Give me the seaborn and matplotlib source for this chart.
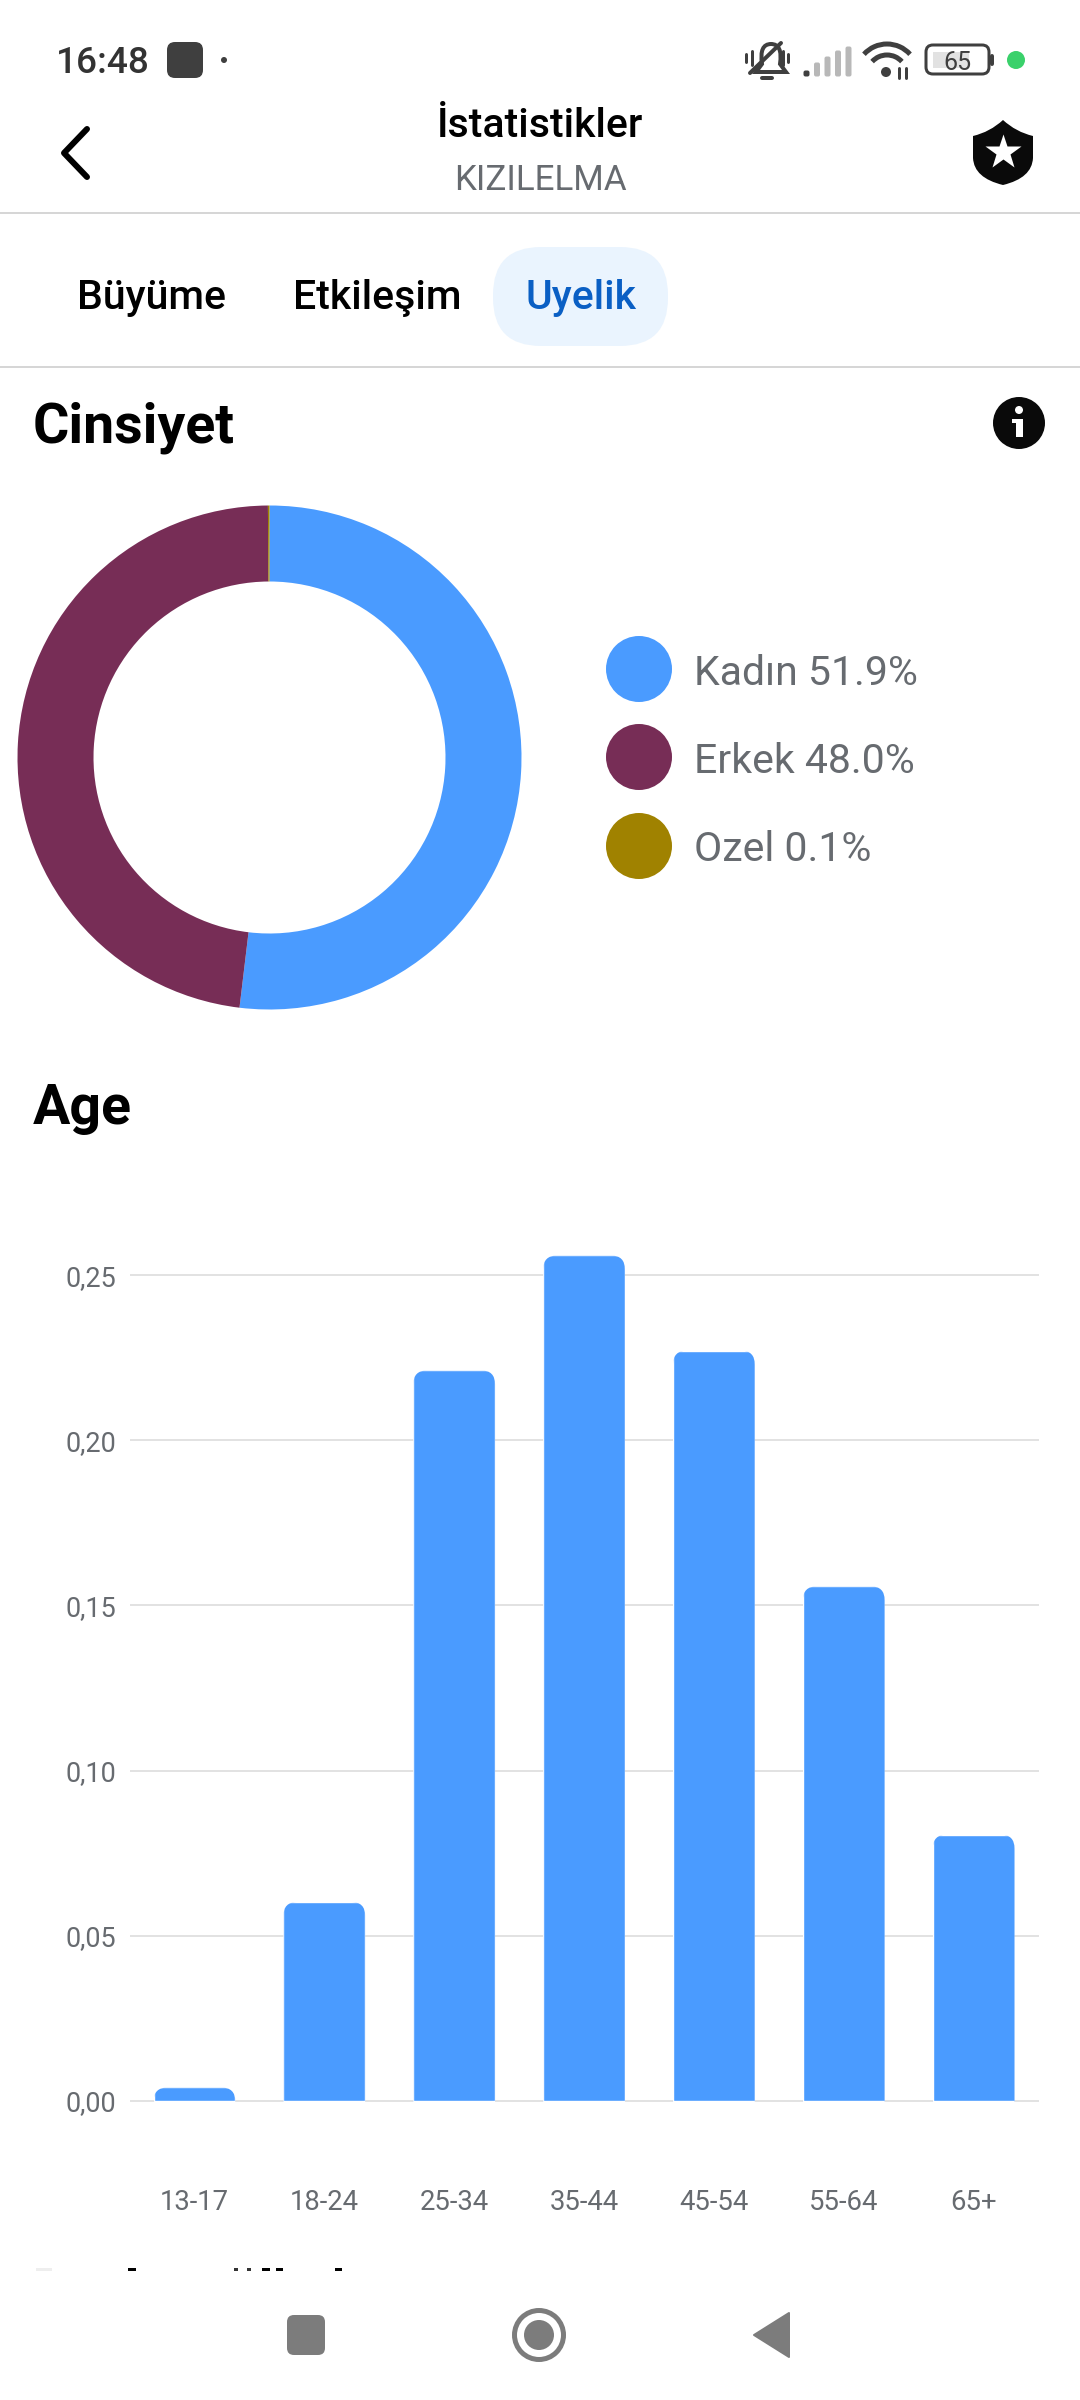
import numpy as np
import pandas as pd
import seaborn as sns
import matplotlib.pyplot as plt
from matplotlib.patches import Arc, Circle, FancyBboxPatch, PathPatch, Polygon, Rectangle
from matplotlib.path import Path
from matplotlib.transforms import IdentityTransform

# gender donut
gender_labels = ["Kadın", "Erkek", "Ozel"]
gender_values = [51.9, 48.0, 0.1]
gender_colors = ["#4A9BFF", "#772D56", "#A08200"]

# age bars
age_groups = ["13-17", "18-24", "25-34", "35-44", "45-54", "55-64", "65+"]
age_values = [0.0040, 0.0602, 0.2212, 0.2560, 0.2272, 0.1558, 0.0806]
y_ticks = [0.00, 0.05, 0.10, 0.15, 0.20, 0.25]
y_tick_labels = ["0,00", "0,05", "0,10", "0,15", "0,20", "0,25"]

BLUE = "#4A9BFF"
GREY_TEXT = "#676B70"
W, H = 1080, 2400


def pt(pixels):
    """Pixels to points at dpi 100"""
    return pixels * 0.72


def axes_from_pixels(fig, left, top, right, bottom):
    return fig.add_axes([left / W, 1 - bottom / H, (right - left) / W, (bottom - top) / H])


def label(ax, x, y, text, size, color="black", weight="normal", ha="left"):
    ax.text(x, y, text, fontsize=pt(size), color=color, fontweight=weight, ha=ha, va="baseline")


def draw_status_bar(ui):
    dark = "#3F3F3F"
    label(ui, 56, 73, "16:48", 37, color="#333333", weight=500)
    ui.add_patch(FancyBboxPatch((173, 48), 24, 24, boxstyle="round,pad=6,rounding_size=8", fc=dark, ec="none"))
    ui.add_patch(Circle((224, 60), 3, fc=dark, ec="none"))

    # muted bell
    bell = Path([(756, 72), (762, 64), (759, 44), (771, 44), (783, 44), (780, 64), (786, 72), (756, 72)],
                [Path.MOVETO, Path.LINETO, Path.CURVE3, Path.CURVE3, Path.CURVE3, Path.CURVE3, Path.LINETO, Path.CLOSEPOLY])
    ui.add_patch(PathPatch(bell, fc="none", ec=dark, lw=pt(4)))
    ui.plot([750, 781], [73, 43], color=dark, lw=pt(4), solid_capstyle="round")
    ui.plot([762, 772], [78, 78], color=dark, lw=pt(4), solid_capstyle="round")
    for x, half in [(746, 4), (752, 7), (783, 7), (788, 4)]:
        ui.plot([x, x], [58 - half, 58 + half], color=dark, lw=pt(3))

    # signal bars
    for i, top in enumerate([70, 62, 56, 50, 46]):
        color = dark if i == 0 else "#B8B8B8"
        ui.add_patch(FancyBboxPatch((805 + i * 10.5, top + 2), 3, 73 - top, boxstyle="round,pad=1.5,rounding_size=2",
                                    fc=color, ec="none"))

    # wifi
    for radius in [31, 20]:
        ui.add_patch(Arc((887, 75), radius * 2, radius * 2, theta1=222, theta2=318, color=dark, lw=pt(5)))
    ui.add_patch(Circle((886, 72), 5, fc=dark, ec="none"))
    ui.plot([899, 899], [68, 78], color=dark, lw=pt(3))
    ui.plot([906, 906], [68, 78], color=dark, lw=pt(3))

    # battery
    ui.add_patch(FancyBboxPatch((932, 51), 51, 17, boxstyle="round,pad=6,rounding_size=7", fc="white", ec=dark, lw=pt(3)))
    ui.add_patch(Rectangle((933, 52), 36, 16, fc="#E2E2E2", ec="none"))
    ui.plot([992, 992], [56, 64], color=dark, lw=pt(4), solid_capstyle="round")
    label(ui, 957, 70, "65", 25, color=dark, ha="center")
    ui.add_patch(Circle((1016, 60), 9, fc="#3AD16B", ec="none"))


def draw_header(ui):
    ui.plot([87, 64, 87], [129, 153, 177], color="black", lw=pt(6), solid_capstyle="round", solid_joinstyle="round")
    label(ui, 540, 137, "İstatistikler", 41, weight=500, ha="center")
    label(ui, 540, 190, "KIZILELMA", 35, color=GREY_TEXT, ha="center")

    shield = Path([(1003, 120), (1016, 132), (1033, 136), (1033, 158), (1032, 178), (1003, 185),
                   (974, 178), (973, 158), (973, 136), (990, 132), (1003, 120)],
                  [Path.MOVETO, Path.CURVE3, Path.CURVE3, Path.LINETO, Path.CURVE3, Path.CURVE3,
                   Path.CURVE3, Path.CURVE3, Path.LINETO, Path.CURVE3, Path.CURVE3])
    ui.add_patch(PathPatch(shield, fc="#0A0A0A", ec="none"))
    ui.plot([1003], [152], marker="*", ms=pt(37), color="white", mec="none")

    ui.plot([0, W], [213, 213], color="#D6D6D6", lw=pt(2))
    ui.add_patch(FancyBboxPatch((533, 287), 95, 19, boxstyle="round,pad=40,rounding_size=48", fc="#EAF4FE", ec="none"))
    label(ui, 77, 309, "Büyüme", 41, weight=500)
    label(ui, 293, 309, "Etkileşim", 41, weight=500)
    label(ui, 526, 309, "Uyelik", 41, color="#0A5FC4", weight=500)
    ui.plot([0, W], [367, 367], color="#D6D6D6", lw=pt(2))

    label(ui, 33, 443, "Cinsiyet", 55.5, weight="bold")
    ui.add_patch(Circle((1019, 423), 26, fc="#0A0A0A", ec="none"))
    ui.add_patch(Circle((1019, 410), 4, fc="white", ec="none"))
    ui.add_patch(Rectangle((1016, 419), 7, 18, fc="white", ec="none"))
    ui.add_patch(Rectangle((1012, 419), 5, 4, fc="white", ec="none"))
    label(ui, 33, 1124, "Age", 55.5, weight="bold")


def draw_legend(ui):
    baselines = [685, 773, 861]
    centers = [669, 757, 846]
    for name, value, color, cy, base in zip(gender_labels, gender_values, gender_colors, centers, baselines):
        ui.add_patch(Circle((639, cy), 33, fc=color, ec="none"))
        label(ui, 694, base, f"{name} {value:.1f}%", 41, color=GREY_TEXT)


def draw_nav_bar(ui):
    grey = "#7C7C7C"
    # tops of the next section title, cut off by the nav bar
    for x0, x1, color in [(36, 52, "#EEEEEE"), (128, 136, "black"), (234, 238, "#333333"), (247, 251, "#333333"),
                          (262, 270, "black"), (276, 283, "black"), (335, 342, "black")]:
        ui.add_patch(Rectangle((x0, 2268), x1 - x0, 3, fc=color, ec="none"))
    ui.add_patch(FancyBboxPatch((293, 2321), 26, 28, boxstyle="round,pad=6,rounding_size=7", fc=grey, ec="none"))
    ui.add_patch(Circle((539, 2335), 24.5, fc="none", ec=grey, lw=pt(5)))
    ui.add_patch(Circle((539, 2335), 15, fc=grey, ec="none"))
    ui.add_patch(Polygon([(789, 2313), (789, 2357), (754, 2335)], closed=True, fc=grey, ec=grey, lw=pt(2), joinstyle="round"))


def plot_gender_donut(fig):
    ax = axes_from_pixels(fig, 269.5 - 252, 757.5 - 252, 269.5 + 252, 757.5 + 252)
    colors = sns.color_palette(gender_colors)
    ax.pie(gender_values, colors=colors, startangle=90, counterclock=False, radius=1,
           wedgeprops={"width": 76 / 252, "linewidth": 0})
    ax.set_xlim(-1, 1)
    ax.set_ylim(-1, 1)
    ax.patch.set_alpha(0)


def plot_age_bars(fig):
    df = pd.DataFrame({"age": age_groups, "share": age_values})
    y_min, y_max = -0.001, 0.26
    px_per_unit = 825.4 / 0.25
    ax = axes_from_pixels(fig, 129.5, 2100.7 - y_max * px_per_unit, 1038.6, 2100.7 - y_min * px_per_unit)
    sns.barplot(data=df, x="age", y="share", color=BLUE, saturation=1, width=0.63, ax=ax, zorder=3)
    ax.set_xlim(-0.5, 6.5)
    ax.set_ylim(y_min, y_max)
    ax.set(xlabel="", ylabel="")
    ax.set_yticks(y_ticks, y_tick_labels)
    ax.grid(axis="y", color="#E2E2E2", lw=pt(2))
    ax.grid(axis="x", visible=False)
    ax.set_axisbelow(True)
    ax.tick_params(axis="y", length=0, pad=pt(13), labelsize=pt(27), labelcolor=GREY_TEXT)
    ax.tick_params(axis="x", length=0, pad=pt(85), labelsize=pt(27.5), labelcolor=GREY_TEXT)
    sns.despine(ax=ax, left=True, bottom=True)
    ax.patch.set_alpha(0)

    # round the top corners of the bars
    fig.canvas.draw()
    for bar in ax.patches:
        box = bar.get_window_extent()
        clip = FancyBboxPatch((box.x0 + 14, box.y0 - 28), box.width - 28, box.height + 14,
                              boxstyle="round,pad=14,rounding_size=14", transform=IdentityTransform())
        bar.set_clip_path(clip)


def main():
    sns.set_theme(style="white")
    plt.rcParams["font.family"] = ["Roboto", "DejaVu Sans"]

    fig = plt.figure(figsize=(W / 100, H / 100), dpi=100, facecolor="white")
    ui = fig.add_axes([0, 0, 1, 1])
    ui.set_xlim(0, W)
    ui.set_ylim(H, 0)
    ui.axis("off")

    draw_status_bar(ui)
    draw_header(ui)
    draw_legend(ui)
    draw_nav_bar(ui)
    plot_gender_donut(fig)
    plot_age_bars(fig)

    fig.savefig("out.png", dpi=100, facecolor="white")
    plt.close(fig)


if __name__ == "__main__":
    main()
